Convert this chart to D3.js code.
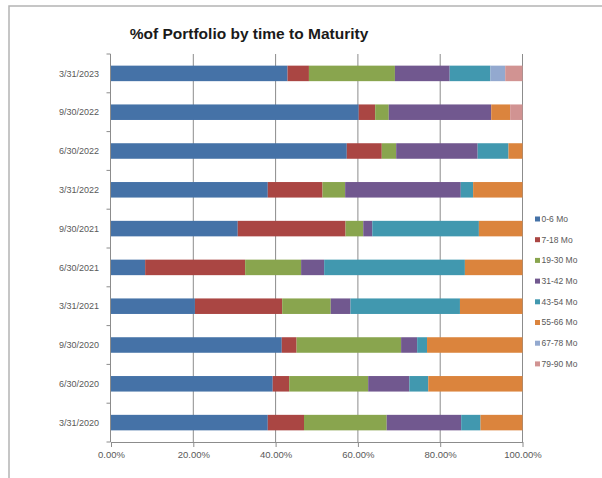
<!DOCTYPE html>
<html>
<head>
<meta charset="utf-8">
<script src="https://cdn.jsdelivr.net/npm/d3@7"></script>
<style>
  body { margin: 0; background: #fff; }
  svg { display: block; font-family: "Liberation Sans", Arial, sans-serif; }
</style>
</head>
<body>
<div id="chart"></div>
<script>
// chart data (percent of portfolio)
const dates = ["3/31/2020", "6/30/2020", "9/30/2020", "3/31/2021", "6/30/2021",
               "9/30/2021", "3/31/2022", "6/30/2022", "9/30/2022", "3/31/2023"];
const seriesNames = ["0-6 Mo", "7-18 Mo", "19-30 Mo", "31-42 Mo", "43-54 Mo", "55-66 Mo", "67-78 Mo", "79-90 Mo"];
const mo0_6   = [38.1, 39.3, 41.5, 20.4,  8.3, 30.8, 38.1, 57.3, 60.2, 42.9];
const mo7_18  = [ 8.8,  4.0,  3.6, 21.2, 24.3, 26.2, 13.3,  8.5,  4.0,  5.2];
const mo19_30 = [20.1, 19.2, 25.4, 11.8, 13.6,  4.3,  5.5,  3.5,  3.3, 20.9];
const mo31_42 = [18.1, 10.0,  3.9,  4.8,  5.6,  2.2, 28.1, 19.8, 24.9, 13.3];
const mo43_54 = [ 4.7,  4.6,  2.4, 26.6, 34.2, 25.9,  3.0,  7.5,  0.0,  9.9];
const mo55_66 = [10.2, 22.9, 23.2, 15.2, 14.0, 10.6, 12.0,  3.4,  4.6,  0.0];
const mo67_78 = [ 0.0,  0.0,  0.0,  0.0,  0.0,  0.0,  0.0,  0.0,  0.0,  3.6];
const mo79_90 = [ 0.0,  0.0,  0.0,  0.0,  0.0,  0.0,  0.0,  0.0,  3.0,  4.2];
const xTicks = [0, 20, 40, 60, 80, 100];

const colors = ["#4572A7", "#AA4643", "#89A54E", "#71588F", "#4198AF", "#DB843D", "#93A9CF", "#D19392"];
const allSeries = [mo0_6, mo7_18, mo19_30, mo31_42, mo43_54, mo55_66, mo67_78, mo79_90];

// build rows for d3.stack
const rows = dates.map((d, i) => {
    const r = { date: d };
    seriesNames.forEach((s, k) => { r[s] = allSeries[k][i]; });
    return r;
});

const W = 602, H = 478;
const plot = { left: 110.5, right: 522.5, top: 54, bottom: 442 };

const svg = d3.select("#chart").append("svg")
    .attr("width", W).attr("height", H);

// outer frame (only left and top edges visible)
svg.append("path")
    .attr("d", `M9,${H} L9,6 L${W},6`)
    .attr("fill", "none").attr("stroke", "#b4b4b4").attr("stroke-width", 1.5);

// title
svg.append("text")
    .attr("x", 249).attr("y", 39)
    .attr("text-anchor", "middle")
    .attr("font-size", "15.5px").attr("font-weight", "bold")
    .attr("fill", "#1a1a1a")
    .text("%of Portfolio by time to Maturity");

const x = d3.scaleLinear().domain([0, 100]).range([plot.left + 0.5, plot.right]);
const y = d3.scaleBand()
    .domain(dates.slice().reverse())
    .range([plot.top, plot.bottom])
    .paddingInner(0.6).paddingOuter(0.3);

// vertical gridlines
svg.append("g").selectAll("line")
    .data(xTicks.slice(1))
    .join("line")
    .attr("x1", d => x(d)).attr("x2", d => x(d))
    .attr("y1", plot.top).attr("y2", plot.bottom)
    .attr("stroke", "#8c8c8c").attr("stroke-width", 1);

// stacked bars
const stack = d3.stack().keys(seriesNames)(rows);
svg.append("g").selectAll("g")
    .data(stack)
    .join("g")
    .attr("fill", (d, i) => colors[i])
    .selectAll("rect")
    .data(d => d)
    .join("rect")
    .attr("x", d => x(d[0]))
    .attr("width", d => Math.max(0, x(d[1]) - x(d[0])))
    .attr("y", d => y(d.data.date))
    .attr("height", y.bandwidth());

// x axis
const xAxis = svg.append("g")
    .attr("transform", `translate(0,${plot.bottom})`)
    .call(d3.axisBottom(x).tickValues(xTicks).tickSize(5).tickSizeOuter(0)
        .tickFormat(d => d.toFixed(2) + "%"));
xAxis.select(".domain").attr("stroke", "#8c8c8c");
xAxis.selectAll(".tick line").attr("stroke", "#8c8c8c");
xAxis.selectAll("text").attr("fill", "#595959").attr("font-size", "9.5px").attr("dy", "0.8em");
xAxis.selectAll("text").attr("font-family", "'Liberation Sans', Arial, sans-serif");

// y axis (ticks between categories)
const step = y.step();
const yAxis = svg.append("g");
yAxis.append("line")
    .attr("x1", plot.left).attr("x2", plot.left)
    .attr("y1", plot.top).attr("y2", plot.bottom)
    .attr("stroke", "#8c8c8c");
yAxis.selectAll("line.tk")
    .data(d3.range(dates.length + 1))
    .join("line").attr("class", "tk")
    .attr("x1", plot.left - 4).attr("x2", plot.left)
    .attr("y1", i => plot.top + i * step).attr("y2", i => plot.top + i * step)
    .attr("stroke", "#8c8c8c");
yAxis.selectAll("text")
    .data(y.domain())
    .join("text")
    .attr("x", 99)
    .attr("y", d => y(d) + y.bandwidth() / 2)
    .attr("dy", "0.35em")
    .attr("text-anchor", "end")
    .attr("font-size", "9px").attr("fill", "#595959")
    .text(d => d);

// legend
const legend = svg.append("g").attr("transform", "translate(535,219)");
const item = legend.selectAll("g")
    .data(seriesNames)
    .join("g")
    .attr("transform", (d, i) => `translate(0,${i * 20.7})`);
item.append("rect")
    .attr("x", 0).attr("y", -2.5).attr("width", 5).attr("height", 5)
    .attr("fill", (d, i) => colors[i]);
item.append("text")
    .attr("x", 6.5).attr("dy", "0.35em")
    .attr("font-size", "8.5px").attr("fill", "#595959")
    .text(d => d);
</script>
</body>
</html>
